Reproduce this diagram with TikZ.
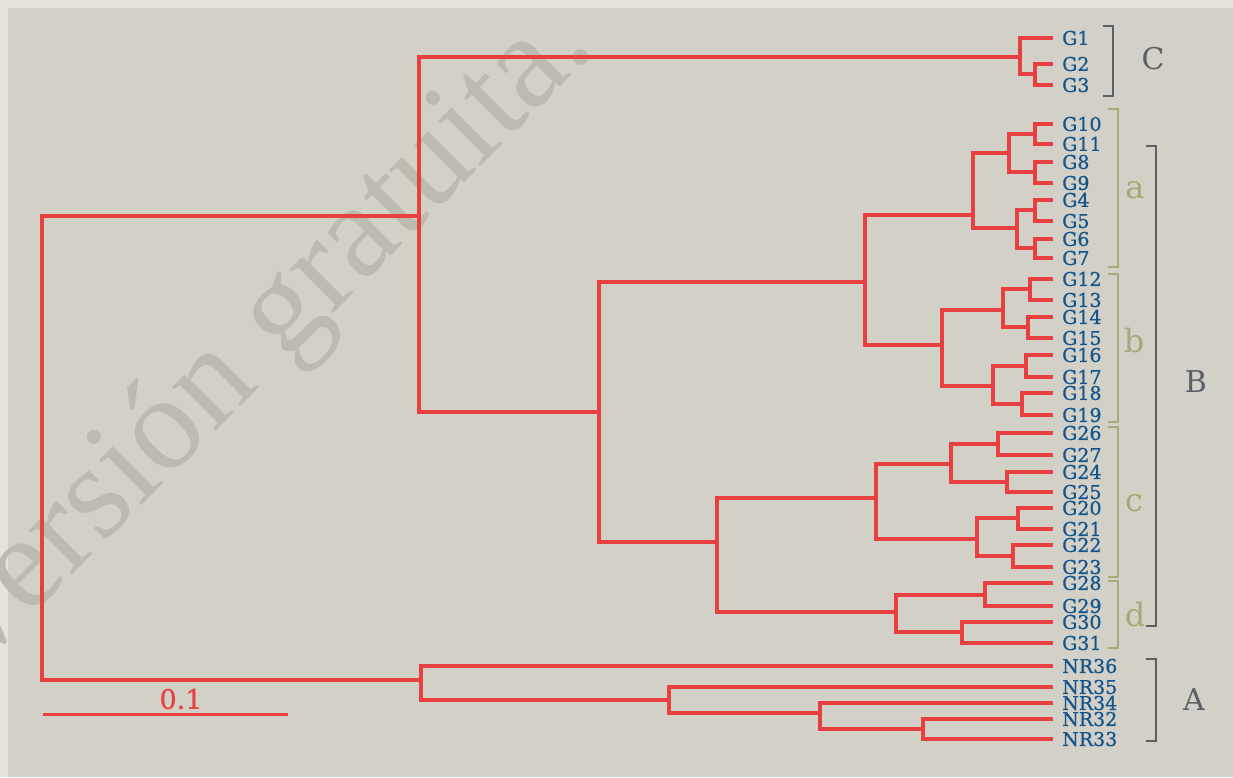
\documentclass[tikz,border=0pt]{standalone}
\usepackage{fontspec}
\setmainfont{DejaVu Serif}
\newfontfamily\leaffont[FakeBold=0.8]{DejaVu Serif}
\newfontfamily\markfont{Liberation Serif}
\usetikzlibrary{positioning}
\definecolor{BranchRed}{RGB}{232,64,64}
\definecolor{LeafBlue}{RGB}{17,85,140}
\definecolor{GroupGray}{RGB}{90,96,100}
\definecolor{SubOlive}{RGB}{168,168,120}
\definecolor{PanelBg}{RGB}{211,208,200}
\definecolor{FrameBg}{RGB}{229,226,218}
\definecolor{MarkGray}{RGB}{189,186,178}

\begin{document}
\begin{tikzpicture}[x=1pt, y=-1pt,
    branch/.style={draw=BranchRed, line width=3.2pt},
    leaf/.style={anchor=west, inner xsep=9pt, inner ysep=0pt,
        font=\leaffont\fontsize{19}{19}\selectfont, text=LeafBlue},
    grplabel/.style={anchor=base, inner sep=0pt,
        font=\fontsize{30}{30}\selectfont, text=GroupGray},
    sublabel/.style={anchor=base, inner sep=0pt,
        font=\fontsize{32}{32}\selectfont, text=SubOlive},
    grpbracket/.style={draw=GroupGray, line width=2.2pt},
    subbracket/.style={draw=SubOlive, line width=2.2pt},
]
\useasboundingbox (0,0) rectangle (1233,777);
\fill[FrameBg] (0,0) rectangle (1233,777);
\fill[PanelBg] (8,8) rectangle (1233,777);

% Watermark
\node[anchor=base, inner sep=0pt, rotate=45, text=MarkGray,
    font=\markfont\fontsize{134}{134}\selectfont] (mark) at (284,363) {Versión gratuita.};

% Leaves
\node[leaf] (g1) at (1053,38) {G1};
\node[leaf] (g2) at (1053,64) {G2};
\node[leaf] (g3) at (1053,85) {G3};
\node[leaf] (g10) at (1053,124) {G10};
\node[leaf] (g11) at (1053,144) {G11};
\node[leaf] (g8) at (1053,162) {G8};
\node[leaf] (g9) at (1053,183) {G9};
\node[leaf] (g4) at (1053,200) {G4};
\node[leaf] (g5) at (1053,221) {G5};
\node[leaf] (g6) at (1053,239) {G6};
\node[leaf] (g7) at (1053,258) {G7};
\node[leaf] (g12) at (1053,279) {G12};
\node[leaf] (g13) at (1053,300) {G13};
\node[leaf] (g14) at (1053,317) {G14};
\node[leaf] (g15) at (1053,338) {G15};
\node[leaf] (g16) at (1053,355) {G16};
\node[leaf] (g17) at (1053,377) {G17};
\node[leaf] (g18) at (1053,393) {G18};
\node[leaf] (g19) at (1053,415) {G19};
\node[leaf] (g26) at (1053,433) {G26};
\node[leaf] (g27) at (1053,455) {G27};
\node[leaf] (g24) at (1053,472) {G24};
\node[leaf] (g25) at (1053,492) {G25};
\node[leaf] (g20) at (1053,508) {G20};
\node[leaf] (g21) at (1053,529) {G21};
\node[leaf] (g22) at (1053,545) {G22};
\node[leaf] (g23) at (1053,567) {G23};
\node[leaf] (g28) at (1053,583) {G28};
\node[leaf] (g29) at (1053,606) {G29};
\node[leaf] (g30) at (1053,622) {G30};
\node[leaf] (g31) at (1053,643) {G31};
\node[leaf] (nr36) at (1053,666) {NR36};
\node[leaf] (nr35) at (1053,687) {NR35};
\node[leaf] (nr34) at (1053,703) {NR34};
\node[leaf] (nr32) at (1053,719) {NR32};
\node[leaf] (nr33) at (1053,739) {NR33};

% Joins
\coordinate (j23) at (1035,74);
\coordinate (jC) at (1020,57);
\coordinate (j1011) at (1035,134);
\coordinate (j89) at (1035,172);
\coordinate (j811) at (1009,153);
\coordinate (j45) at (1035,210);
\coordinate (j67) at (1035,248);
\coordinate (j47) at (1017,228);
\coordinate (ja) at (973,215);
\coordinate (j1213) at (1030,289);
\coordinate (j1415) at (1028,327);
\coordinate (j1215) at (1003,310);
\coordinate (j1617) at (1026,366);
\coordinate (j1819) at (1022,404);
\coordinate (j1619) at (993,386);
\coordinate (jb) at (942,345);
\coordinate (jab) at (865,282);
\coordinate (j2627) at (998,444);
\coordinate (j2425) at (1007,482);
\coordinate (j2427) at (951,464);
\coordinate (j2021) at (1018,518);
\coordinate (j2223) at (1013,556);
\coordinate (j2023) at (977,539);
\coordinate (jc) at (876,498);
\coordinate (j2829) at (985,595);
\coordinate (j3031) at (962,632);
\coordinate (jd) at (896,612);
\coordinate (jcd) at (717,542);
\coordinate (jB) at (599,412);
\coordinate (jCB) at (419,216);
\coordinate (j3233) at (923,729);
\coordinate (j34) at (820,713);
\coordinate (j35) at (669,700);
\coordinate (jA) at (421,680);
\coordinate (root) at (42,450);

% Group C
\draw[branch] (g2.west) -| (j23) |- (g3.west);
\draw[branch] (g1.west) -| (jC) |- (j23);
% Group a
\draw[branch] (g10.west) -| (j1011) |- (g11.west);
\draw[branch] (g8.west) -| (j89) |- (g9.west);
\draw[branch] (j1011) -| (j811) |- (j89);
\draw[branch] (g4.west) -| (j45) |- (g5.west);
\draw[branch] (g6.west) -| (j67) |- (g7.west);
\draw[branch] (j45) -| (j47) |- (j67);
\draw[branch] (j811) -| (ja) |- (j47);
% Group b
\draw[branch] (g12.west) -| (j1213) |- (g13.west);
\draw[branch] (g14.west) -| (j1415) |- (g15.west);
\draw[branch] (j1213) -| (j1215) |- (j1415);
\draw[branch] (g16.west) -| (j1617) |- (g17.west);
\draw[branch] (g18.west) -| (j1819) |- (g19.west);
\draw[branch] (j1617) -| (j1619) |- (j1819);
\draw[branch] (j1215) -| (jb) |- (j1619);
\draw[branch] (ja) -| (jab) |- (jb);
% Group c
\draw[branch] (g26.west) -| (j2627) |- (g27.west);
\draw[branch] (g24.west) -| (j2425) |- (g25.west);
\draw[branch] (j2627) -| (j2427) |- (j2425);
\draw[branch] (g20.west) -| (j2021) |- (g21.west);
\draw[branch] (g22.west) -| (j2223) |- (g23.west);
\draw[branch] (j2021) -| (j2023) |- (j2223);
\draw[branch] (j2427) -| (jc) |- (j2023);
% Group d
\draw[branch] (g28.west) -| (j2829) |- (g29.west);
\draw[branch] (g30.west) -| (j3031) |- (g31.west);
\draw[branch] (j2829) -| (jd) |- (j3031);
\draw[branch] (jc) -| (jcd) |- (jd);
\draw[branch] (jab) -| (jB) |- (jcd);
\draw[branch] (jC) -| (jCB) |- (jB);
% Group A
\draw[branch] (nr32.west) -| (j3233) |- (nr33.west);
\draw[branch] (nr34.west) -| (j34) |- (j3233);
\draw[branch] (nr35.west) -| (j35) |- (j34);
\draw[branch] (nr36.west) -| (jA) |- (j35);
\draw[branch] (jCB) -| (root) |- (jA);

% Scale bar
\coordinate (bar0) at (43,714);
\coordinate (bar1) at (288,714);
\draw[branch, line width=3pt] (bar0) -- (bar1);
\node[inner sep=0pt, text=BranchRed, font=\leaffont\fontsize{27}{27}\selectfont] (barlabel) at (181,699) {0.1};

% Brackets
\draw[grpbracket] (1103,26) -- (1113,26) -- (1113,96) -- (1103,96);
\draw[grpbracket] (1146,146) -- (1156,146) -- (1156,626) -- (1146,626);
\draw[grpbracket] (1146,659) -- (1156,659) -- (1156,741) -- (1146,741);
\draw[subbracket] (1108,109) -- (1118,109) -- (1118,267) -- (1108,267);
\draw[subbracket] (1108,274) -- (1118,274) -- (1118,422) -- (1108,422);
\draw[subbracket] (1108,427) -- (1118,427) -- (1118,577) -- (1108,577);
\draw[subbracket] (1108,581) -- (1118,581) -- (1118,648) -- (1108,648);

% Group labels
\node[grplabel] (labC) at (1153,69) {C};
\node[grplabel] (labB) at (1196,392) {B};
\node[grplabel] (labA) at (1194,710) {A};
\node[sublabel] (laba) at (1135,198) {a};
\node[sublabel] (labb) at (1134,352) {b};
\node[sublabel] (labc) at (1134,511) {c};
\node[sublabel] (labd) at (1135,626) {d};
\end{tikzpicture}
\end{document}
